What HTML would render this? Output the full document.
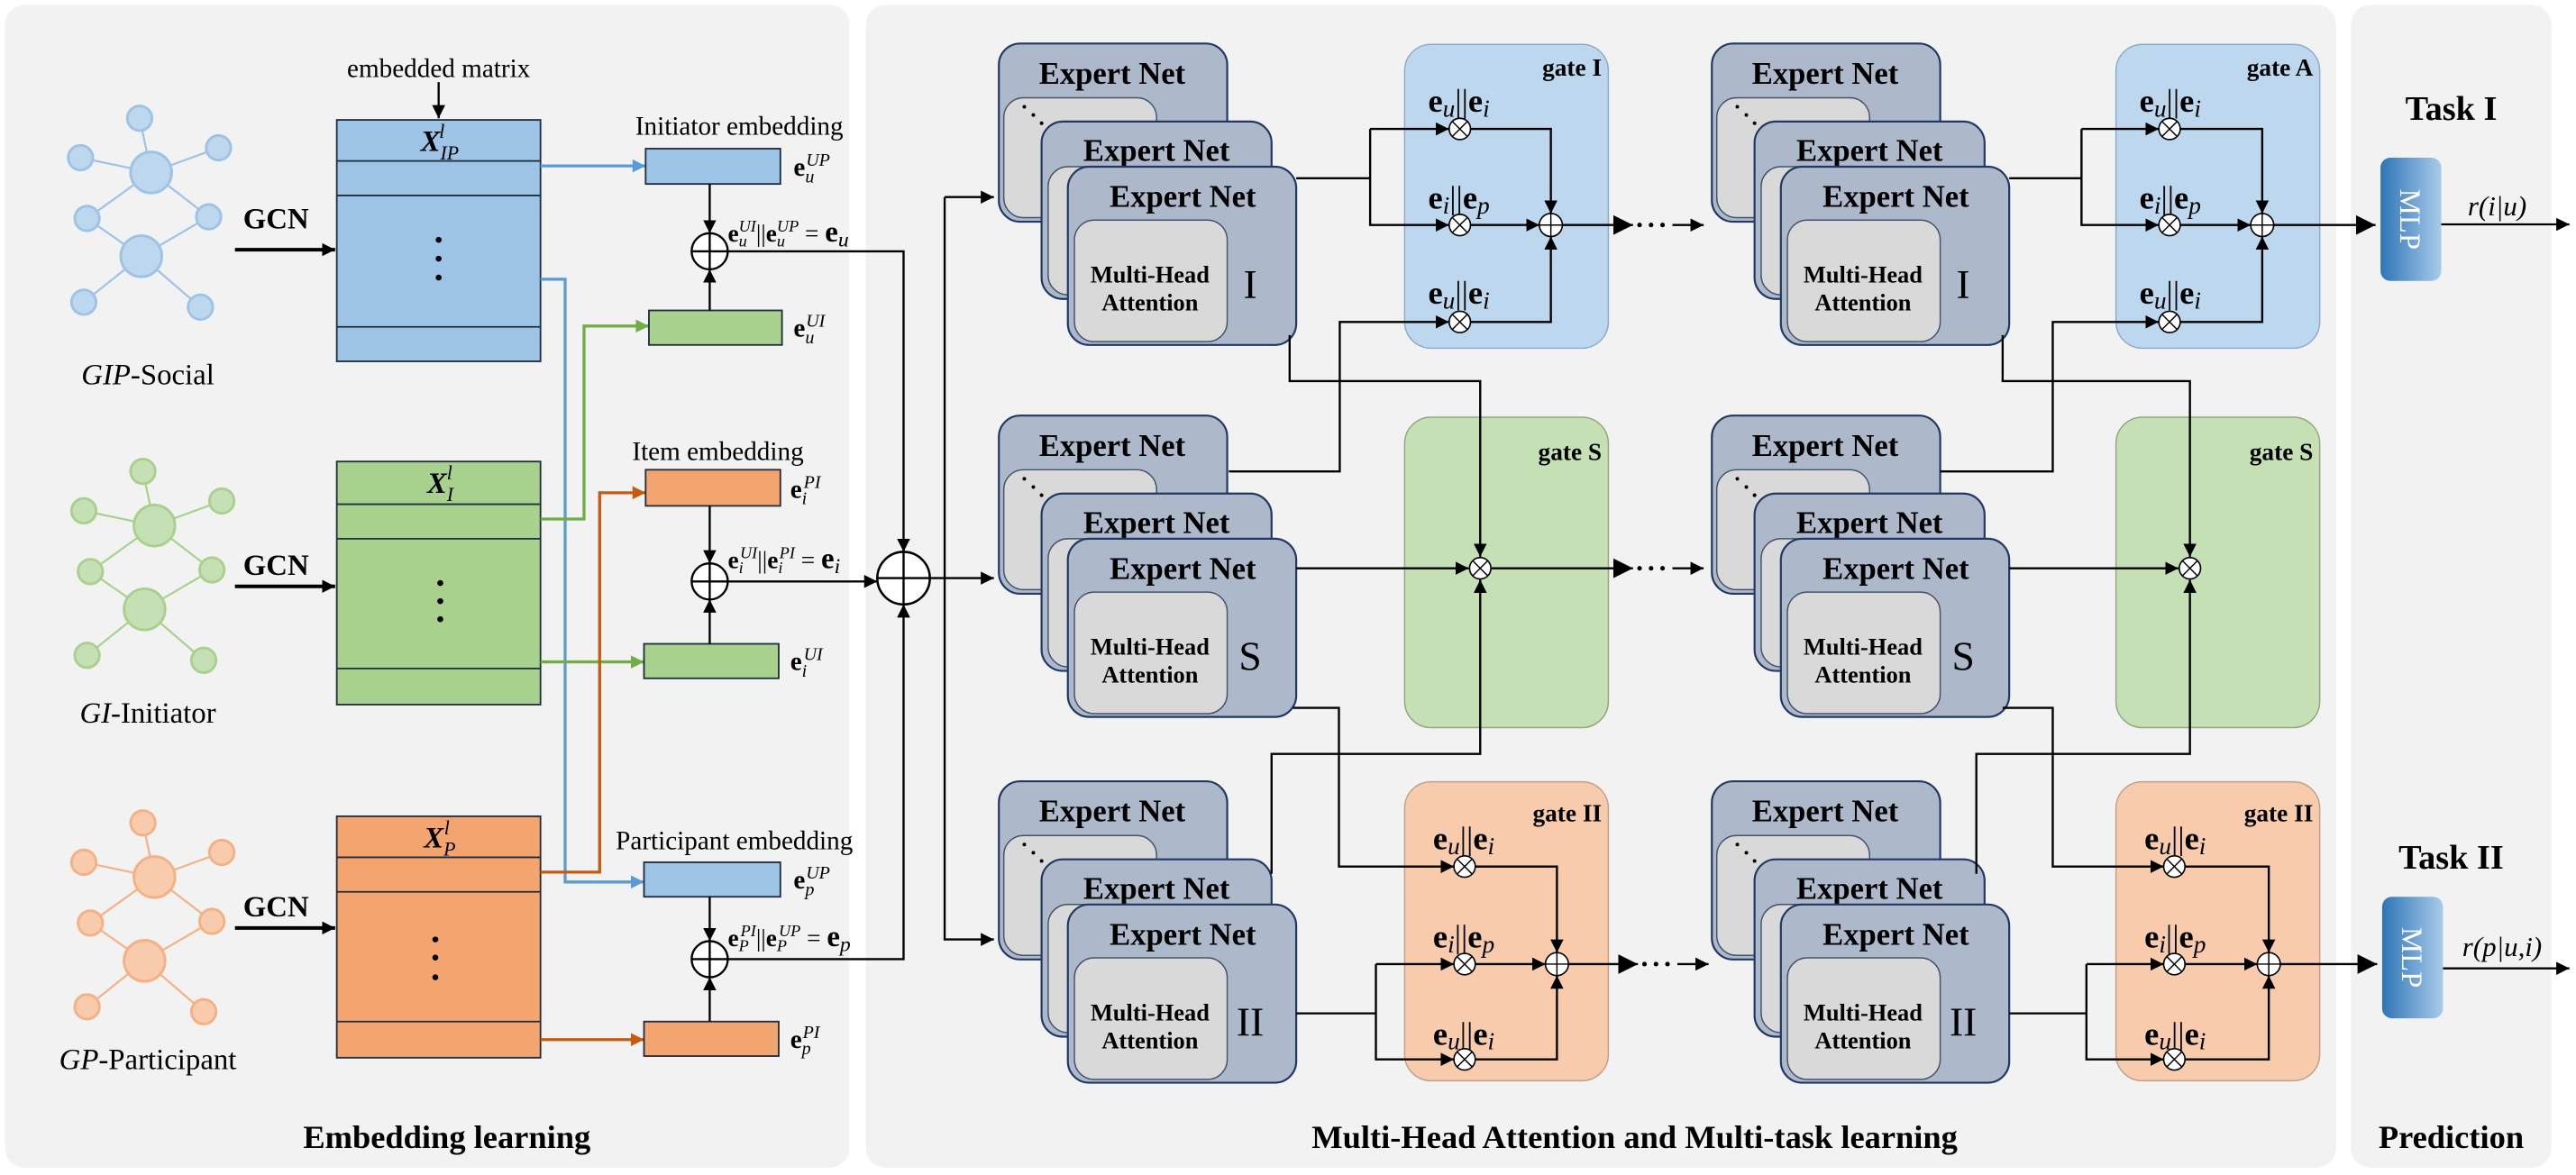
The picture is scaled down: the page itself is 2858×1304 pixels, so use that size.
<!DOCTYPE html>
<html><head><meta charset="utf-8">
<style>
html,body{margin:0;padding:0;background:#fff;}
svg{display:block;font-family:"Liberation Serif","Times New Roman","DejaVu Serif",serif;}
text,tspan{font-family:"Liberation Serif","Times New Roman","DejaVu Serif",serif;}
text{fill:#000;}
.b{font-weight:bold;}
.i{font-style:italic;}
.ln{stroke:#000;stroke-width:1.3;fill:none;}
.card{fill:#adb9ca;stroke:#203864;stroke-width:1.2;}
.inner{fill:#d9d9d9;stroke:#44546a;stroke-width:0.8;}
.en{font-weight:bold;font-size:19px;text-anchor:middle;}
.mh{font-weight:bold;font-size:14.5px;text-anchor:middle;}
.rom{font-size:25px;text-anchor:middle;}
.gl{font-weight:bold;font-size:15px;text-anchor:end;}
.eq{font-size:20px;text-anchor:middle;}
.ox{fill:#fff;stroke:#000;stroke-width:0.9;}
</style></head><body>
<svg width="2858" height="1304" viewBox="0 0 1568 715.4" xmlns="http://www.w3.org/2000/svg" font-family="Liberation Serif, Times New Roman, DejaVu Serif, serif">
<defs>
<marker id="a" markerUnits="userSpaceOnUse" markerWidth="9" markerHeight="8" refX="8" refY="4" orient="auto"><path d="M0,0 L8,4 L0,8 z" fill="#000"/></marker>
<marker id="ab" markerUnits="userSpaceOnUse" markerWidth="9" markerHeight="8" refX="8" refY="4" orient="auto"><path d="M0,0 L8,4 L0,8 z" fill="#5b9bd5"/></marker>
<marker id="ag" markerUnits="userSpaceOnUse" markerWidth="9" markerHeight="8" refX="8" refY="4" orient="auto"><path d="M0,0 L8,4 L0,8 z" fill="#70ad47"/></marker>
<marker id="ao" markerUnits="userSpaceOnUse" markerWidth="9" markerHeight="8" refX="8" refY="4" orient="auto"><path d="M0,0 L8,4 L0,8 z" fill="#c55a11"/></marker>
<marker id="aB" markerUnits="userSpaceOnUse" markerWidth="13" markerHeight="12" refX="12" refY="6" orient="auto"><path d="M0,0 L12,6 L0,12 z" fill="#000"/></marker>
<linearGradient id="mlp" x1="0" x2="1" y1="0" y2="0"><stop offset="0" stop-color="#2e75b6"/><stop offset="1" stop-color="#a9cbea"/></linearGradient>
</defs>

<rect x="3" y="3" width="514" height="708" rx="12" fill="#f2f2f2"/>
<rect x="527" y="3" width="895" height="708" rx="12" fill="#f2f2f2"/>
<rect x="1431" y="3" width="122" height="708" rx="12" fill="#f2f2f2"/>

<g stroke="#9dc3e6" stroke-width="1.2">
<line x1="85" y1="72" x2="92" y2="105"/><line x1="49" y1="96" x2="92" y2="105"/><line x1="133" y1="90" x2="92" y2="105"/>
<line x1="92" y1="105" x2="53" y2="133"/><line x1="92" y1="105" x2="127" y2="132"/><line x1="53" y1="133" x2="86" y2="156"/>
<line x1="127" y1="132" x2="86" y2="156"/><line x1="86" y1="156" x2="51" y2="184"/><line x1="86" y1="156" x2="122" y2="187"/>
</g>
<g fill="#bdd7ee" stroke="#9dc3e6" stroke-width="1.6">
<circle cx="85" cy="72" r="7.5"/><circle cx="49" cy="96" r="7.5"/><circle cx="133" cy="90" r="7.5"/><circle cx="92" cy="105" r="12.5"/>
<circle cx="53" cy="133" r="7.5"/><circle cx="127" cy="132" r="7.5"/><circle cx="86" cy="156" r="12.5"/><circle cx="51" cy="184" r="7.5"/><circle cx="122" cy="187" r="7.5"/>
</g>
<g transform="translate(2,215)">
<g stroke="#a9d18e" stroke-width="1.2">
<line x1="85" y1="72" x2="92" y2="105"/><line x1="49" y1="96" x2="92" y2="105"/><line x1="133" y1="90" x2="92" y2="105"/>
<line x1="92" y1="105" x2="53" y2="133"/><line x1="92" y1="105" x2="127" y2="132"/><line x1="53" y1="133" x2="86" y2="156"/>
<line x1="127" y1="132" x2="86" y2="156"/><line x1="86" y1="156" x2="51" y2="184"/><line x1="86" y1="156" x2="122" y2="187"/>
</g>
<g fill="#c5e0b4" stroke="#a9d18e" stroke-width="1.6">
<circle cx="85" cy="72" r="7.5"/><circle cx="49" cy="96" r="7.5"/><circle cx="133" cy="90" r="7.5"/><circle cx="92" cy="105" r="12.5"/>
<circle cx="53" cy="133" r="7.5"/><circle cx="127" cy="132" r="7.5"/><circle cx="86" cy="156" r="12.5"/><circle cx="51" cy="184" r="7.5"/><circle cx="122" cy="187" r="7.5"/>
</g></g>
<g transform="translate(2,429)">
<g stroke="#f4b183" stroke-width="1.2">
<line x1="85" y1="72" x2="92" y2="105"/><line x1="49" y1="96" x2="92" y2="105"/><line x1="133" y1="90" x2="92" y2="105"/>
<line x1="92" y1="105" x2="53" y2="133"/><line x1="92" y1="105" x2="127" y2="132"/><line x1="53" y1="133" x2="86" y2="156"/>
<line x1="127" y1="132" x2="86" y2="156"/><line x1="86" y1="156" x2="51" y2="184"/><line x1="86" y1="156" x2="122" y2="187"/>
</g>
<g fill="#f8cbad" stroke="#f4b183" stroke-width="1.6">
<circle cx="85" cy="72" r="7.5"/><circle cx="49" cy="96" r="7.5"/><circle cx="133" cy="90" r="7.5"/><circle cx="92" cy="105" r="12.5"/>
<circle cx="53" cy="133" r="7.5"/><circle cx="127" cy="132" r="7.5"/><circle cx="86" cy="156" r="12.5"/><circle cx="51" cy="184" r="7.5"/><circle cx="122" cy="187" r="7.5"/>
</g></g>

<text x="90" y="234" font-size="18" text-anchor="middle"><tspan class="i">GIP</tspan>-Social</text>
<text x="90" y="440" font-size="18" text-anchor="middle"><tspan class="i">GI</tspan>-Initiator</text>
<text x="90" y="651" font-size="18" text-anchor="middle"><tspan class="i">GP</tspan>-Participant</text>

<text x="168" y="139" class="b" font-size="18" text-anchor="middle">GCN</text>
<line x1="143" y1="152" x2="204" y2="152" stroke="#000" stroke-width="2.2" marker-end="url(#a)"/>
<text x="168" y="350" class="b" font-size="18" text-anchor="middle">GCN</text>
<line x1="143" y1="357" x2="204" y2="357" stroke="#000" stroke-width="2.2" marker-end="url(#a)"/>
<text x="168" y="558" class="b" font-size="18" text-anchor="middle">GCN</text>
<line x1="143" y1="565" x2="204" y2="565" stroke="#000" stroke-width="2.2" marker-end="url(#a)"/>

<text x="267" y="47" font-size="16" text-anchor="middle">embedded matrix</text>
<line class="ln" x1="267" y1="50" x2="267" y2="72" marker-end="url(#a)"/>

<g stroke="#1f2d3d" stroke-width="1">
<rect x="205" y="73" width="124" height="147" fill="#9dc3e6"/>
<line x1="205" y1="98" x2="329" y2="98"/><line x1="205" y1="119" x2="329" y2="119"/><line x1="205" y1="199" x2="329" y2="199"/>
<rect x="205" y="281" width="124" height="148" fill="#a9d18e"/>
<line x1="205" y1="307" x2="329" y2="307"/><line x1="205" y1="328" x2="329" y2="328"/><line x1="205" y1="407" x2="329" y2="407"/>
<rect x="205" y="497" width="124" height="147" fill="#f4a46e"/>
<line x1="205" y1="522" x2="329" y2="522"/><line x1="205" y1="543" x2="329" y2="543"/><line x1="205" y1="622" x2="329" y2="622"/>
</g>
<g fill="#000">
<circle cx="267" cy="146" r="1.8"/><circle cx="267" cy="157.5" r="1.8"/><circle cx="267" cy="169" r="1.8"/>
<circle cx="268" cy="355" r="1.8"/><circle cx="268" cy="366" r="1.8"/><circle cx="268" cy="377" r="1.8"/>
<circle cx="265" cy="572" r="1.8"/><circle cx="265" cy="583" r="1.8"/><circle cx="265" cy="595" r="1.8"/>
</g>
<text x="256" y="92" font-size="18" class="b i">X<tspan font-size="12" dy="5" font-weight="normal">IP</tspan><tspan font-size="12" dx="-12" dy="-13" font-weight="normal">l</tspan></text>
<text x="260" y="300" font-size="18" class="b i">X<tspan font-size="12" dy="5" font-weight="normal">I</tspan><tspan font-size="12" dx="-4" dy="-13" font-weight="normal">l</tspan></text>
<text x="258" y="516" font-size="18" class="b i">X<tspan font-size="12" dy="5" font-weight="normal">P</tspan><tspan font-size="12" dx="-7" dy="-13" font-weight="normal">l</tspan></text>

<polyline points="329,101 393,101" fill="none" stroke="#5b9bd5" stroke-width="1.8" marker-end="url(#ab)"/>
<polyline points="329,170 344,170 344,537 392,537" fill="none" stroke="#5b9bd5" stroke-width="1.8" marker-end="url(#ab)"/>
<polyline points="329,316 355.5,316 355.5,198.5 395,198.5" fill="none" stroke="#70ad47" stroke-width="1.8" marker-end="url(#ag)"/>
<polyline points="329,403 392,403" fill="none" stroke="#70ad47" stroke-width="1.8" marker-end="url(#ag)"/>
<polyline points="329,531 365,531 365,300 393,300" fill="none" stroke="#c55a11" stroke-width="1.8" marker-end="url(#ao)"/>
<polyline points="329,633 392,633" fill="none" stroke="#c55a11" stroke-width="1.8" marker-end="url(#ao)"/>

<text x="450" y="82" font-size="16" text-anchor="middle">Initiator embedding</text>
<text x="437" y="280" font-size="16" text-anchor="middle">Item embedding</text>
<text x="447" y="517" font-size="16" text-anchor="middle">Participant embedding</text>
<g stroke="#1f2d3d" stroke-width="1">
<rect x="393" y="90.5" width="82" height="21.5" fill="#9dc3e6"/>
<rect x="395" y="189" width="81" height="21" fill="#a9d18e"/>
<rect x="393" y="286" width="82" height="22" fill="#f4a46e"/>
<rect x="392" y="392" width="82" height="21" fill="#a9d18e"/>
<rect x="392" y="525" width="83" height="21" fill="#9dc3e6"/>
<rect x="392" y="622" width="82" height="21" fill="#f4a46e"/>
</g>
<g font-size="16">
<text x="483" y="107" class="b">e<tspan font-size="11" class="i" font-weight="normal" dy="4">u</tspan><tspan font-size="11" class="i" font-weight="normal" dx="-5" dy="-10">UP</tspan></text>
<text x="483" y="205" class="b">e<tspan font-size="11" class="i" font-weight="normal" dy="4">u</tspan><tspan font-size="11" class="i" font-weight="normal" dx="-5" dy="-10">UI</tspan></text>
<text x="481" y="303" class="b">e<tspan font-size="11" class="i" font-weight="normal" dy="4">i</tspan><tspan font-size="11" class="i" font-weight="normal" dx="-2" dy="-10">PI</tspan></text>
<text x="481" y="408" class="b">e<tspan font-size="11" class="i" font-weight="normal" dy="4">i</tspan><tspan font-size="11" class="i" font-weight="normal" dx="-2" dy="-10">UI</tspan></text>
<text x="483" y="541" class="b">e<tspan font-size="11" class="i" font-weight="normal" dy="4">p</tspan><tspan font-size="11" class="i" font-weight="normal" dx="-5" dy="-10">UP</tspan></text>
<text x="481" y="638" class="b">e<tspan font-size="11" class="i" font-weight="normal" dy="4">p</tspan><tspan font-size="11" class="i" font-weight="normal" dx="-5" dy="-10">PI</tspan></text>
</g>

<line class="ln" x1="432" y1="112" x2="432" y2="142" marker-end="url(#a)"/>
<line class="ln" x1="432" y1="189" x2="432" y2="164" marker-end="url(#a)"/>
<line class="ln" x1="432" y1="308" x2="432" y2="343" marker-end="url(#a)"/>
<line class="ln" x1="432" y1="392" x2="432" y2="365" marker-end="url(#a)"/>
<line class="ln" x1="432" y1="546" x2="432" y2="573" marker-end="url(#a)"/>
<line class="ln" x1="432" y1="622" x2="432" y2="595" marker-end="url(#a)"/>
<g fill="#fff" stroke="#000" stroke-width="1.3">
<circle cx="432" cy="153" r="11"/><circle cx="432" cy="354" r="11"/><circle cx="432" cy="584" r="11"/>
</g>
<path class="ln" d="M421,153 H443 M432,142 V164 M421,354 H443 M432,343 V365 M421,584 H443 M432,573 V595"/>
<g font-size="15">
<text x="443" y="147" class="b">e<tspan font-size="10" class="i" font-weight="normal" dy="3">u</tspan><tspan font-size="10" class="i" font-weight="normal" dx="-5" dy="-9">UI</tspan><tspan font-weight="normal" dy="6">||</tspan>e<tspan font-size="10" class="i" font-weight="normal" dy="3">u</tspan><tspan font-size="10" class="i" font-weight="normal" dx="-5" dy="-9">UP</tspan><tspan font-weight="normal" dy="6"> = </tspan><tspan font-size="18">e</tspan><tspan font-size="13" class="i" font-weight="normal" dy="3">u</tspan></text>
<text x="443" y="346" class="b">e<tspan font-size="10" class="i" font-weight="normal" dy="3">i</tspan><tspan font-size="10" class="i" font-weight="normal" dx="-2" dy="-9">UI</tspan><tspan font-weight="normal" dy="6">||</tspan>e<tspan font-size="10" class="i" font-weight="normal" dy="3">i</tspan><tspan font-size="10" class="i" font-weight="normal" dx="-2" dy="-9">PI</tspan><tspan font-weight="normal" dy="6"> = </tspan><tspan font-size="18">e</tspan><tspan font-size="13" class="i" font-weight="normal" dy="3">i</tspan></text>
<text x="443" y="576" class="b">e<tspan font-size="10" class="i" font-weight="normal" dy="3">P</tspan><tspan font-size="10" class="i" font-weight="normal" dx="-5" dy="-9">PI</tspan><tspan font-weight="normal" dy="6">||</tspan>e<tspan font-size="10" class="i" font-weight="normal" dy="3">P</tspan><tspan font-size="10" class="i" font-weight="normal" dx="-5" dy="-9">UP</tspan><tspan font-weight="normal" dy="6"> = </tspan><tspan font-size="18">e</tspan><tspan font-size="13" class="i" font-weight="normal" dy="3">p</tspan></text>
</g>

<polyline class="ln" points="443,153 550,153 550,336" marker-end="url(#a)"/>
<polyline class="ln" points="443,584 550,584 550,368" marker-end="url(#a)"/>
<line class="ln" x1="443" y1="354" x2="534" y2="354" marker-end="url(#a)"/>
<circle cx="550" cy="352" r="16" fill="#fff" stroke="#000" stroke-width="1.4"/>
<path class="ln" d="M534,352 H566 M550,336 V368"/>
<line class="ln" x1="566" y1="352" x2="605" y2="352" marker-end="url(#a)"/>
<polyline class="ln" points="575,120 575,572 605,572" marker-end="url(#a)"/>
<line class="ln" x1="575" y1="120" x2="605" y2="120" marker-end="url(#a)"/>

<g transform="translate(608,26.5)">
<rect class="card" x="0" y="0" width="139" height="108.5" rx="13"/>
<rect class="inner" x="3" y="33" width="93" height="73" rx="12"/>
<circle cx="15.5" cy="38.5" r="1.1"/><circle cx="21" cy="43.5" r="1.1"/><circle cx="26" cy="48.5" r="1.1"/>
<text class="en" x="69" y="24.5">Expert Net</text>
<rect class="card" x="26" y="47.5" width="140" height="108" rx="13"/>
<rect class="inner" x="30" y="75" width="92" height="78" rx="12"/>
<text class="en" x="96" y="71.5">Expert Net</text>
<rect class="card" x="42" y="75" width="139" height="108.5" rx="13"/>
<rect class="inner" x="46" y="107.5" width="93" height="74" rx="12"/>
<text class="en" x="112" y="99.5">Expert Net</text>
<text class="mh" x="92" y="145.5">Multi-Head</text><text class="mh" x="92" y="162.5">Attention</text>
<text class="rom" x="153" y="155">I</text>
</g>
<g transform="translate(608,253)">
<rect class="card" x="0" y="0" width="139" height="108.5" rx="13"/>
<rect class="inner" x="3" y="33" width="93" height="73" rx="12"/>
<circle cx="15.5" cy="38.5" r="1.1"/><circle cx="21" cy="43.5" r="1.1"/><circle cx="26" cy="48.5" r="1.1"/>
<text class="en" x="69" y="24.5">Expert Net</text>
<rect class="card" x="26" y="47.5" width="140" height="108" rx="13"/>
<rect class="inner" x="30" y="75" width="92" height="78" rx="12"/>
<text class="en" x="96" y="71.5">Expert Net</text>
<rect class="card" x="42" y="75" width="139" height="108.5" rx="13"/>
<rect class="inner" x="46" y="107.5" width="93" height="74" rx="12"/>
<text class="en" x="112" y="99.5">Expert Net</text>
<text class="mh" x="92" y="145.5">Multi-Head</text><text class="mh" x="92" y="162.5">Attention</text>
<text class="rom" x="153" y="155">S</text>
</g>
<g transform="translate(608,475.7)">
<rect class="card" x="0" y="0" width="139" height="108.5" rx="13"/>
<rect class="inner" x="3" y="33" width="93" height="73" rx="12"/>
<circle cx="15.5" cy="38.5" r="1.1"/><circle cx="21" cy="43.5" r="1.1"/><circle cx="26" cy="48.5" r="1.1"/>
<text class="en" x="69" y="24.5">Expert Net</text>
<rect class="card" x="26" y="47.5" width="140" height="108" rx="13"/>
<rect class="inner" x="30" y="75" width="92" height="78" rx="12"/>
<text class="en" x="96" y="71.5">Expert Net</text>
<rect class="card" x="42" y="75" width="139" height="108.5" rx="13"/>
<rect class="inner" x="46" y="107.5" width="93" height="74" rx="12"/>
<text class="en" x="112" y="99.5">Expert Net</text>
<text class="mh" x="92" y="145.5">Multi-Head</text><text class="mh" x="92" y="162.5">Attention</text>
<text class="rom" x="153" y="155">II</text>
</g>
<g transform="translate(1042,26.5)">
<rect class="card" x="0" y="0" width="139" height="108.5" rx="13"/>
<rect class="inner" x="3" y="33" width="93" height="73" rx="12"/>
<circle cx="15.5" cy="38.5" r="1.1"/><circle cx="21" cy="43.5" r="1.1"/><circle cx="26" cy="48.5" r="1.1"/>
<text class="en" x="69" y="24.5">Expert Net</text>
<rect class="card" x="26" y="47.5" width="140" height="108" rx="13"/>
<rect class="inner" x="30" y="75" width="92" height="78" rx="12"/>
<text class="en" x="96" y="71.5">Expert Net</text>
<rect class="card" x="42" y="75" width="139" height="108.5" rx="13"/>
<rect class="inner" x="46" y="107.5" width="93" height="74" rx="12"/>
<text class="en" x="112" y="99.5">Expert Net</text>
<text class="mh" x="92" y="145.5">Multi-Head</text><text class="mh" x="92" y="162.5">Attention</text>
<text class="rom" x="153" y="155">I</text>
</g>
<g transform="translate(1042,253)">
<rect class="card" x="0" y="0" width="139" height="108.5" rx="13"/>
<rect class="inner" x="3" y="33" width="93" height="73" rx="12"/>
<circle cx="15.5" cy="38.5" r="1.1"/><circle cx="21" cy="43.5" r="1.1"/><circle cx="26" cy="48.5" r="1.1"/>
<text class="en" x="69" y="24.5">Expert Net</text>
<rect class="card" x="26" y="47.5" width="140" height="108" rx="13"/>
<rect class="inner" x="30" y="75" width="92" height="78" rx="12"/>
<text class="en" x="96" y="71.5">Expert Net</text>
<rect class="card" x="42" y="75" width="139" height="108.5" rx="13"/>
<rect class="inner" x="46" y="107.5" width="93" height="74" rx="12"/>
<text class="en" x="112" y="99.5">Expert Net</text>
<text class="mh" x="92" y="145.5">Multi-Head</text><text class="mh" x="92" y="162.5">Attention</text>
<text class="rom" x="153" y="155">S</text>
</g>
<g transform="translate(1042,475.7)">
<rect class="card" x="0" y="0" width="139" height="108.5" rx="13"/>
<rect class="inner" x="3" y="33" width="93" height="73" rx="12"/>
<circle cx="15.5" cy="38.5" r="1.1"/><circle cx="21" cy="43.5" r="1.1"/><circle cx="26" cy="48.5" r="1.1"/>
<text class="en" x="69" y="24.5">Expert Net</text>
<rect class="card" x="26" y="47.5" width="140" height="108" rx="13"/>
<rect class="inner" x="30" y="75" width="92" height="78" rx="12"/>
<text class="en" x="96" y="71.5">Expert Net</text>
<rect class="card" x="42" y="75" width="139" height="108.5" rx="13"/>
<rect class="inner" x="46" y="107.5" width="93" height="74" rx="12"/>
<text class="en" x="112" y="99.5">Expert Net</text>
<text class="mh" x="92" y="145.5">Multi-Head</text><text class="mh" x="92" y="162.5">Attention</text>
<text class="rom" x="153" y="155">II</text>
</g>

<rect x="855" y="27" width="124" height="185" rx="16" fill="#bdd7ee" stroke="#8eaacb" stroke-width="0.8"/>
<rect x="855" y="254" width="124" height="189" rx="16" fill="#c5e0b4" stroke="#8fa97f" stroke-width="0.8"/>
<rect x="855" y="476" width="124" height="182" rx="16" fill="#f8cbad" stroke="#c0a08a" stroke-width="0.8"/>
<rect x="1288" y="27" width="124" height="185" rx="16" fill="#bdd7ee" stroke="#8eaacb" stroke-width="0.8"/>
<rect x="1288" y="254" width="124" height="189" rx="16" fill="#c5e0b4" stroke="#8fa97f" stroke-width="0.8"/>
<rect x="1288" y="476" width="124" height="182" rx="16" fill="#f8cbad" stroke="#c0a08a" stroke-width="0.8"/>
<text class="gl" x="975" y="46">gate I</text>
<text class="gl" x="975" y="280">gate S</text>
<text class="gl" x="975" y="500">gate II</text>
<text class="gl" x="1408" y="46">gate A</text>
<text class="gl" x="1408" y="280">gate S</text>
<text class="gl" x="1408" y="500">gate II</text>

<g class="eq">
<text x="888" y="68"><tspan class="b">e</tspan><tspan class="i" font-size="15" dy="3">u</tspan><tspan dy="-3">||</tspan><tspan class="b">e</tspan><tspan class="i" font-size="15" dy="3">i</tspan></text>
<text x="888" y="127"><tspan class="b">e</tspan><tspan class="i" font-size="15" dy="3">i</tspan><tspan dy="-3">||</tspan><tspan class="b">e</tspan><tspan class="i" font-size="15" dy="3">p</tspan></text>
<text x="888" y="185"><tspan class="b">e</tspan><tspan class="i" font-size="15" dy="3">u</tspan><tspan dy="-3">||</tspan><tspan class="b">e</tspan><tspan class="i" font-size="15" dy="3">i</tspan></text>
<text x="891" y="517"><tspan class="b">e</tspan><tspan class="i" font-size="15" dy="3">u</tspan><tspan dy="-3">||</tspan><tspan class="b">e</tspan><tspan class="i" font-size="15" dy="3">i</tspan></text>
<text x="891" y="577"><tspan class="b">e</tspan><tspan class="i" font-size="15" dy="3">i</tspan><tspan dy="-3">||</tspan><tspan class="b">e</tspan><tspan class="i" font-size="15" dy="3">p</tspan></text>
<text x="891" y="636"><tspan class="b">e</tspan><tspan class="i" font-size="15" dy="3">u</tspan><tspan dy="-3">||</tspan><tspan class="b">e</tspan><tspan class="i" font-size="15" dy="3">i</tspan></text>
<text x="1321" y="68"><tspan class="b">e</tspan><tspan class="i" font-size="15" dy="3">u</tspan><tspan dy="-3">||</tspan><tspan class="b">e</tspan><tspan class="i" font-size="15" dy="3">i</tspan></text>
<text x="1321" y="127"><tspan class="b">e</tspan><tspan class="i" font-size="15" dy="3">i</tspan><tspan dy="-3">||</tspan><tspan class="b">e</tspan><tspan class="i" font-size="15" dy="3">p</tspan></text>
<text x="1321" y="185"><tspan class="b">e</tspan><tspan class="i" font-size="15" dy="3">u</tspan><tspan dy="-3">||</tspan><tspan class="b">e</tspan><tspan class="i" font-size="15" dy="3">i</tspan></text>
<text x="1324" y="517"><tspan class="b">e</tspan><tspan class="i" font-size="15" dy="3">u</tspan><tspan dy="-3">||</tspan><tspan class="b">e</tspan><tspan class="i" font-size="15" dy="3">i</tspan></text>
<text x="1324" y="577"><tspan class="b">e</tspan><tspan class="i" font-size="15" dy="3">i</tspan><tspan dy="-3">||</tspan><tspan class="b">e</tspan><tspan class="i" font-size="15" dy="3">p</tspan></text>
<text x="1324" y="636"><tspan class="b">e</tspan><tspan class="i" font-size="15" dy="3">u</tspan><tspan dy="-3">||</tspan><tspan class="b">e</tspan><tspan class="i" font-size="15" dy="3">i</tspan></text>
</g>

<polyline class="ln" points="789,108.5 834,108.5"/>
<polyline class="ln" points="834,78.5 834,137 882,137" marker-end="url(#a)"/>
<line class="ln" x1="834" y1="78.5" x2="882" y2="78.5" marker-end="url(#a)"/>
<polyline class="ln" points="748,287 815.5,287 815.5,196 882,196" marker-end="url(#a)"/>
<polyline class="ln" points="895,78.5 944,78.5 944,130" marker-end="url(#a)"/>
<line class="ln" x1="895" y1="137" x2="937" y2="137" marker-end="url(#a)"/>
<polyline class="ln" points="895,196 944,196 944,144" marker-end="url(#a)"/>
<polyline class="ln" points="785,204 785,232 901,232 901,339" marker-end="url(#a)"/>
<line class="ln" x1="789" y1="346" x2="894" y2="346" marker-end="url(#a)"/>
<polyline class="ln" points="774,532 774,459 901,459 901,353" marker-end="url(#a)"/>
<polyline class="ln" points="787,431 815,431 815,527.6 885,527.6" marker-end="url(#a)"/>
<line class="ln" x1="789" y1="617" x2="837.5" y2="617"/>
<polyline class="ln" points="837.5,587 837.5,645 885,645" marker-end="url(#a)"/>
<line class="ln" x1="837.5" y1="587" x2="885" y2="587" marker-end="url(#a)"/>
<polyline class="ln" points="898,527.6 947.7,527.6 947.7,580" marker-end="url(#a)"/>
<line class="ln" x1="898" y1="587" x2="940.7" y2="587" marker-end="url(#a)"/>
<polyline class="ln" points="898,645 947.7,645 947.7,594" marker-end="url(#a)"/>

<polyline class="ln" points="1223,108.5 1267,108.5"/>
<polyline class="ln" points="1267,78.5 1267,137 1314,137" marker-end="url(#a)"/>
<line class="ln" x1="1267" y1="78.5" x2="1314" y2="78.5" marker-end="url(#a)"/>
<polyline class="ln" points="1181,287 1249.5,287 1249.5,196 1314,196" marker-end="url(#a)"/>
<polyline class="ln" points="1327,78.5 1377,78.5 1377,130" marker-end="url(#a)"/>
<line class="ln" x1="1327" y1="137" x2="1370" y2="137" marker-end="url(#a)"/>
<polyline class="ln" points="1327,196 1377,196 1377,144" marker-end="url(#a)"/>
<polyline class="ln" points="1219,204 1219,232 1333,232 1333,339" marker-end="url(#a)"/>
<line class="ln" x1="1223" y1="346" x2="1326" y2="346" marker-end="url(#a)"/>
<polyline class="ln" points="1203,532 1203,459 1333,459 1333,353" marker-end="url(#a)"/>
<polyline class="ln" points="1219,431 1249.5,431 1249.5,527.6 1317,527.6" marker-end="url(#a)"/>
<line class="ln" x1="1223" y1="617" x2="1270" y2="617"/>
<polyline class="ln" points="1270,587 1270,645 1317,645" marker-end="url(#a)"/>
<line class="ln" x1="1270" y1="587" x2="1317" y2="587" marker-end="url(#a)"/>
<polyline class="ln" points="1330,527.6 1381,527.6 1381,580" marker-end="url(#a)"/>
<line class="ln" x1="1330" y1="587" x2="1374" y2="587" marker-end="url(#a)"/>
<polyline class="ln" points="1330,645 1381,645 1381,594" marker-end="url(#a)"/>

<g>
<g class="ox"><circle cx="888.6" cy="78.5" r="6.5"/><circle cx="888.6" cy="137" r="6.5"/><circle cx="888.6" cy="196" r="6.5"/>
<circle cx="891.5" cy="527.6" r="6.5"/><circle cx="891.5" cy="587" r="6.5"/><circle cx="891.5" cy="645" r="6.5"/>
<circle cx="901" cy="346" r="6.5"/><circle cx="1333" cy="346" r="6.5"/>
<circle cx="1320.6" cy="78.5" r="6.5"/><circle cx="1320.6" cy="137" r="6.5"/><circle cx="1320.6" cy="196" r="6.5"/>
<circle cx="1323.5" cy="527.6" r="6.5"/><circle cx="1323.5" cy="587" r="6.5"/><circle cx="1323.5" cy="645" r="6.5"/>
<circle cx="944" cy="137" r="7"/><circle cx="947.7" cy="587" r="7"/><circle cx="1377" cy="137" r="7"/><circle cx="1381" cy="587" r="7"/></g>
<path stroke="#000" stroke-width="0.8" fill="none" d="
M884,73.9 l9.2,9.2 M893.2,73.9 l-9.2,9.2 M884,132.4 l9.2,9.2 M893.2,132.4 l-9.2,9.2 M884,191.4 l9.2,9.2 M893.2,191.4 l-9.2,9.2
M886.9,523 l9.2,9.2 M896.1,523 l-9.2,9.2 M886.9,582.4 l9.2,9.2 M896.1,582.4 l-9.2,9.2 M886.9,640.4 l9.2,9.2 M896.1,640.4 l-9.2,9.2
M896.4,341.4 l9.2,9.2 M905.6,341.4 l-9.2,9.2 M1328.4,341.4 l9.2,9.2 M1337.6,341.4 l-9.2,9.2
M1316,73.9 l9.2,9.2 M1325.2,73.9 l-9.2,9.2 M1316,132.4 l9.2,9.2 M1325.2,132.4 l-9.2,9.2 M1316,191.4 l9.2,9.2 M1325.2,191.4 l-9.2,9.2
M1318.9,523 l9.2,9.2 M1328.1,523 l-9.2,9.2 M1318.9,582.4 l9.2,9.2 M1328.1,582.4 l-9.2,9.2 M1318.9,640.4 l9.2,9.2 M1328.1,640.4 l-9.2,9.2
M937,137 h14 M944,130 v14 M940.7,587 h14 M947.7,580 v14 M1370,137 h14 M1377,130 v14 M1374,587 h14 M1381,580 v14"/>
</g>

<g>
<line class="ln" x1="951" y1="137" x2="994" y2="137" stroke-width="1.6" marker-end="url(#aB)"/>
<circle cx="998" cy="137" r="1.4"/><circle cx="1005" cy="137" r="1.4"/><circle cx="1012" cy="137" r="1.4"/>
<line class="ln" x1="1018" y1="137" x2="1037" y2="137" marker-end="url(#a)"/>
<line class="ln" x1="908" y1="346" x2="994" y2="346" stroke-width="1.6" marker-end="url(#aB)"/>
<circle cx="998" cy="346" r="1.4"/><circle cx="1005" cy="346" r="1.4"/><circle cx="1012" cy="346" r="1.4"/>
<line class="ln" x1="1018" y1="346" x2="1037" y2="346" marker-end="url(#a)"/>
<line class="ln" x1="955" y1="587" x2="997" y2="587" stroke-width="1.6" marker-end="url(#aB)"/>
<circle cx="1001" cy="587" r="1.4"/><circle cx="1008" cy="587" r="1.4"/><circle cx="1015" cy="587" r="1.4"/>
<line class="ln" x1="1021" y1="587" x2="1040" y2="587" marker-end="url(#a)"/>
</g>

<line class="ln" x1="1384" y1="137" x2="1446" y2="137" stroke-width="1.6" marker-end="url(#aB)"/>
<line class="ln" x1="1388" y1="587" x2="1447" y2="587" stroke-width="1.6" marker-end="url(#aB)"/>
<rect x="1449" y="96" width="37" height="75" rx="6" fill="url(#mlp)"/>
<rect x="1450" y="546" width="37" height="74" rx="6" fill="url(#mlp)"/>
<text transform="translate(1461,133.5) rotate(90)" font-size="18" style="fill:#fff" text-anchor="middle">MLP</text>
<text transform="translate(1462,583) rotate(90)" font-size="18" style="fill:#fff" text-anchor="middle">MLP</text>
<line class="ln" x1="1486" y1="136.6" x2="1564" y2="136.6" marker-end="url(#a)"/>
<line class="ln" x1="1487" y1="589.6" x2="1564" y2="589.6" marker-end="url(#a)"/>
<text x="1520" y="131" font-size="17" class="i" text-anchor="middle">r(i|u)</text>
<text x="1523" y="582" font-size="17" class="i" text-anchor="middle">r(p|u,i)</text>
<text x="1492" y="73" class="b" font-size="21" text-anchor="middle">Task I</text>
<text x="1492" y="529" class="b" font-size="21" text-anchor="middle">Task II</text>

<text x="272" y="699" class="b" font-size="20" text-anchor="middle">Embedding learning</text>
<text x="995" y="699" class="b" font-size="20" text-anchor="middle">Multi-Head Attention and Multi-task learning</text>
<text x="1492" y="699" class="b" font-size="20" text-anchor="middle">Prediction</text>
</svg>
</body></html>
